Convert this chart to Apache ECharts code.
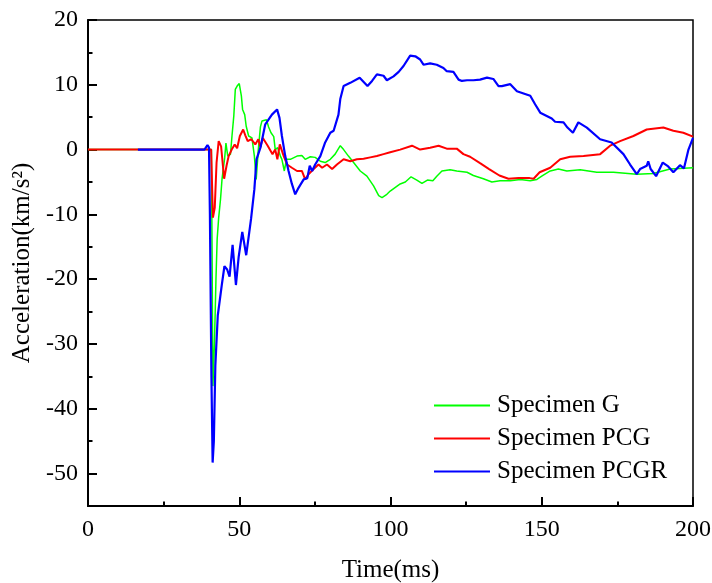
<!DOCTYPE html>
<html>
<head>
<meta charset="utf-8">
<script src="https://cdn.jsdelivr.net/npm/echarts@6/dist/echarts.min.js"></script>
<style>html,body{margin:0;padding:0;background:#fff}#c{width:712px;height:583px}</style>
</head>
<body>
<div id="c"></div>
<script>
var seriesNames = ['Specimen G', 'Specimen PCG', 'Specimen PCGR'];
var xTicks = [0, 50, 100, 150, 200];
var yTicks = [-50, -40, -30, -20, -10, 0, 10, 20];
var yMinorTicks = [-45, -35, -25, -15, -5, 5, 15];

var gTime = [0, 40.8, 41.3, 41.8, 42.3, 42.7, 43.2, 43.8, 44.3, 45.2, 45.6, 46.2, 47.1, 47.6, 48.2, 48.7, 49.3, 50.0, 50.7, 51.1, 51.8, 52.3, 53.1, 54.2, 55.0, 55.6, 56.3, 57.0, 57.5, 59.0, 59.7, 60.5, 61.4, 61.9, 62.7, 63.6, 64.1, 64.9, 65.6, 66.9, 69.1, 70.7, 71.8, 73.5, 75.1, 76.8, 78.4, 80.1, 81.7, 83.4, 84.5, 86.1, 87.8, 90.0, 92.2, 94.4, 96.1, 97.2, 98.8, 99.9, 103.2, 104.9, 106.8, 108.7, 110.4, 112.2, 114.0, 115.3, 117.0, 119.7, 121.9, 125.3, 127.4, 130.7, 133.5, 136.2, 139.6, 142.9, 146.2, 148.4, 150.0, 152.8, 155.5, 158.3, 162.7, 168.2, 173.7, 181.4, 186.9, 192.4, 200];
var gAcc = [0, 0, -36.5, -30, -20, -13.8, -10.5, -7.7, -4.6, -1.2, 1.0, -1.0, -0.7, 2.1, 5.2, 9.3, 9.8, 10.2, 8.3, 6.2, 5.4, 3.6, 2.1, 1.8, -1.0, -4.6, 0, 3.5, 4.4, 4.6, 3.5, 2.6, 2.0, 0, 0.3, -1.0, -1.5, -3.3, -1.5, -1.5, -1.0, -0.9, -1.5, -1.1, -1.2, -1.8, -2.0, -1.5, -0.7, 0.6, 0, -1.0, -2.0, -3.3, -4.1, -5.6, -7.1, -7.4, -6.9, -6.4, -5.3, -5.0, -4.2, -4.7, -5.2, -4.7, -4.8, -4.1, -3.3, -3.1, -3.3, -3.5, -4.0, -4.5, -5.0, -4.8, -4.8, -4.6, -4.8, -4.6, -4.1, -3.3, -3.0, -3.3, -3.1, -3.5, -3.5, -3.8, -3.7, -3.0, -2.8];

var pcgTime = [0, 40.7, 41.3, 41.9, 42.5, 43.2, 44.0, 45.0, 45.8, 46.5, 47.5, 48.5, 49.3, 50.2, 51.3, 52.0, 52.8, 54.0, 55.3, 56.3, 57.0, 57.8, 59.4, 61.0, 61.9, 62.6, 63.4, 64.7, 65.8, 67.4, 69.1, 70.7, 71.8, 72.9, 74.6, 76.2, 77.4, 79.0, 80.7, 82.3, 84.5, 86.7, 88.9, 91.1, 93.3, 95.5, 97.7, 99.9, 103.2, 107.1, 109.8, 113.1, 115.9, 118.6, 121.9, 124.1, 126.3, 129.6, 132.6, 136.0, 139.0, 142.3, 146.0, 147.3, 149.3, 152.8, 156.1, 159.4, 163.8, 169.3, 172.6, 175.9, 180.3, 184.7, 190.2, 193.5, 196.8, 200];
var pcgAcc = [0, 0, -10.5, -9, -2, 1.3, 0.5, -4.5, -2.5, -1, 0, 0.8, 0.2, 2.1, 3.1, 2.2, 1.3, 1.6, 0.8, 1.6, 0.4, 1.8, 0.6, -0.7, 0, -1.5, 0.8, -1.0, -2.3, -2.8, -3.3, -3.3, -4.6, -3.8, -3.0, -2.3, -2.8, -2.3, -3.0, -2.3, -1.5, -1.8, -1.5, -1.4, -1.2, -1.0, -0.7, -0.4, 0, 0.6, 0, 0.3, 0.6, 0.15, 0.15, -0.7, -1.1, -2.1, -3.0, -4.0, -4.5, -4.4, -4.4, -4.5, -3.5, -2.8, -1.5, -1.1, -1.0, -0.7, 0.6, 1.3, 2.1, 3.1, 3.4, 2.9, 2.6, 2.0];

var pcgrTime = [16.5, 38.5, 39.5, 40.0, 40.3, 40.8, 41.2, 41.6, 42.1, 42.9, 43.5, 44.2, 45.1, 46.0, 46.8, 47.8, 48.9, 49.8, 51.0, 52.3, 53.9, 55.0, 55.7, 57.0, 58.6, 60.8, 62.5, 63.3, 64.1, 65.2, 66.3, 67.4, 68.5, 69.6, 71.3, 72.5, 73.3, 74.1, 75.1, 76.8, 78.4, 80.1, 81.2, 82.8, 83.4, 84.5, 86.7, 89.8, 92.4, 93.9, 95.5, 97.7, 98.8, 101.0, 102.7, 104.3, 106.5, 108.2, 109.8, 110.9, 113.1, 115.3, 117.5, 118.6, 120.8, 122.5, 123.6, 125.3, 127.4, 129.6, 131.9, 134.0, 135.7, 136.8, 139.6, 141.8, 146.2, 147.8, 149.5, 153.3, 154.4, 157.2, 158.5, 160.3, 162.1, 164.9, 169.3, 173.1, 177.0, 179.2, 181.4, 182.5, 184.7, 185.2, 186.0, 187.8, 190.0, 191.8, 193.5, 195.7, 197.0, 198.5, 200];
var pcgrAcc = [0, 0, 0.7, 0.3, -10, -35, -48.3, -45, -33.3, -25.6, -25.4, -21, -18.0, -18.5, -19.6, -14.7, -20.9, -16.6, -12.7, -16.3, -10.7, -6.1, -1.5, 0.3, 3.9, 5.4, 6.2, 4.9, 2.1, -1.0, -3.3, -5.3, -6.9, -5.9, -4.6, -4.4, -2.5, -3.3, -2.3, -1.0, 1.1, 2.6, 2.9, 5.4, 7.8, 9.8, 10.3, 11.1, 9.8, 10.6, 11.6, 11.4, 10.7, 11.3, 12.0, 12.9, 14.5, 14.4, 13.9, 13.1, 13.3, 13.1, 12.6, 12.1, 12.0, 10.8, 10.6, 10.7, 10.7, 10.8, 11.1, 10.9, 9.8, 9.8, 10.1, 9.0, 8.3, 7.0, 5.7, 4.8, 4.3, 4.2, 3.4, 2.6, 4.2, 3.4, 1.6, 1.1, -0.7, -2.3, -3.8, -3.0, -2.5, -1.8, -3.0, -4.1, -2.0, -2.6, -3.5, -2.4, -2.9, 0, 1.8];

function zip(t, a) { return t.map(function (v, i) { return [v, a[i]]; }); }

var FONT = '"Liberation Serif", "Times New Roman", serif';
var chart = echarts.init(document.getElementById('c'), null, { renderer: 'canvas' });
var colors = ['#00ff00', '#ff0000', '#0000ff'];
var widths = [1.5, 2, 2.2];
var datas = [zip(gTime, gAcc), zip(pcgTime, pcgAcc), zip(pcgrTime, pcgrAcc)];

chart.setOption({
  animation: false,
  backgroundColor: '#fff',
  grid: { left: 88, right: 19, top: 20, bottom: 77, show: true, borderColor: '#000', borderWidth: 1.5, containLabel: false, outerBoundsMode: 'none' },
  legend: {
    orient: 'vertical', left: 434, top: 393, padding: 0,
    icon: 'rect', itemWidth: 56, itemHeight: 2, itemGap: 8,
    textStyle: { fontFamily: FONT, fontSize: 25, color: '#000', lineHeight: 23, padding: [0, 0, 0, 2] },
    data: seriesNames
  },
  xAxis: {
    type: 'value', min: 0, max: 200, interval: 50,
    name: 'Time(ms)', nameLocation: 'middle', nameGap: 52,
    nameTextStyle: { fontFamily: FONT, fontSize: 25, color: '#000' },
    axisLine: { show: true, onZero: false, lineStyle: { color: '#000', width: 2 } },
    axisTick: { show: true, inside: true, length: 9, lineStyle: { color: '#000', width: 2 } },
    minorTick: { show: true, splitNumber: 2, length: 4.5, lineStyle: { color: '#000', width: 2 } },
    axisLabel: { fontFamily: FONT, fontSize: 24, color: '#000', margin: 12 },
    splitLine: { show: false }
  },
  yAxis: [{
    type: 'value', min: -55, max: 20, interval: 5,
    name: 'Acceleration(km/s²)', nameLocation: 'middle', nameGap: 50,
    nameTextStyle: { fontFamily: FONT, fontSize: 25, color: '#000' },
    axisLine: { show: true, onZero: false, lineStyle: { color: '#000', width: 2 } },
    axisTick: { show: true, inside: true, length: 9, customValues: yTicks, lineStyle: { color: '#000', width: 2 } },
    axisLabel: { fontFamily: FONT, fontSize: 24, color: '#000', margin: 10, customValues: yTicks },
    splitLine: { show: false }
  }, {
    type: 'value', min: -55, max: 20, interval: 5, position: 'left', offset: 0,
    axisLine: { show: false },
    axisTick: { show: true, inside: true, length: 4.5, customValues: yMinorTicks, lineStyle: { color: '#000', width: 2 } },
    axisLabel: { show: false },
    splitLine: { show: false }
  }],
  series: seriesNames.map(function (n, i) {
    return {
      name: n, type: 'line', data: datas[i], showSymbol: false, symbol: 'none',
      color: colors[i], lineStyle: { color: colors[i], width: widths[i] },
      z: 2 + i, clip: true
    };
  })
});
</script>
</body>
</html>
